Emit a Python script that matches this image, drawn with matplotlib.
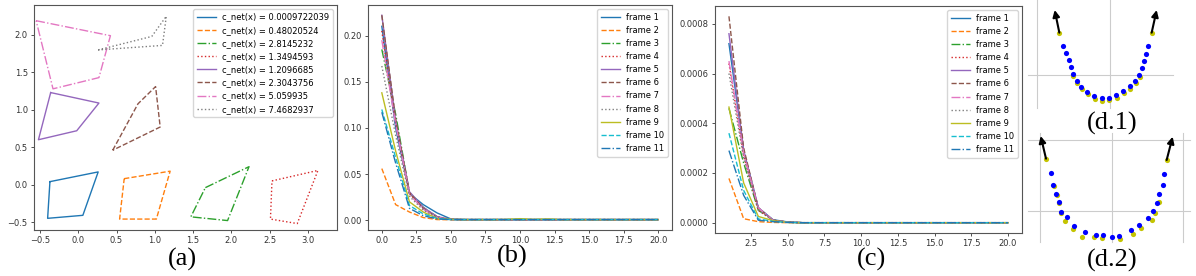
import numpy as np
import matplotlib.pyplot as plt

W, H = 1196, 276

# ---------- (a) polygons: x, y corner lists (closed loops) ----------
poly_labels = ['c_net(x) = 0.0009722039', 'c_net(x) = 0.48020524', 'c_net(x) = 2.8145232',
               'c_net(x) = 1.3494593', 'c_net(x) = 1.2096685', 'c_net(x) = 2.3043756',
               'c_net(x) = 5.059935', 'c_net(x) = 7.4682937']
poly_x = [
    [-0.37, 0.26, 0.06, -0.40, -0.37],
    [0.60, 1.20, 1.02, 0.54, 0.60],
    [1.66, 2.23, 1.95, 1.47, 1.66],
    [2.53, 3.13, 2.86, 2.51, 2.53],
    [-0.36, 0.27, -0.02, -0.52, -0.36],
    [0.45, 0.78, 1.01, 1.07, 0.45],
    [-0.55, 0.42, 0.27, -0.33, -0.55],
    [0.26, 0.96, 1.15, 1.10, 0.26],
]
poly_y = [
    [0.04, 0.17, -0.41, -0.45, 0.04],
    [0.08, 0.18, -0.46, -0.46, 0.08],
    [-0.04, 0.24, -0.48, -0.43, -0.04],
    [0.05, 0.19, -0.52, -0.46, 0.05],
    [1.23, 1.09, 0.72, 0.60, 1.23],
    [0.46, 1.08, 1.31, 0.77, 0.46],
    [2.19, 1.99, 1.43, 1.28, 2.19],
    [1.80, 1.98, 2.25, 1.86, 1.80],
]

# ---------- (b) and (c) curves ----------
frames = ['frame %d' % i for i in range(1, 12)]
x_b = list(range(0, 21))
y_b = [
    [0.210, 0.100, 0.029, 0.017, 0.008, 0.0015, 0.0008, 0.0008, 0.0008, 0.0008, 0.0008, 0.0008, 0.0008, 0.0008, 0.0008, 0.0008, 0.0008, 0.0008, 0.0008, 0.0008, 0.0008],
    [0.056, 0.017, 0.009, 0.003, 0.0008, 0.0006, 0.0006, 0.0006, 0.0006, 0.0006, 0.0006, 0.0006, 0.0006, 0.0006, 0.0006, 0.0006, 0.0006, 0.0006, 0.0006, 0.0006, 0.0006],
    [0.185, 0.115, 0.030, 0.014, 0.004, 0.0010, 0.0008, 0.0008, 0.0008, 0.0008, 0.0008, 0.0008, 0.0008, 0.0008, 0.0008, 0.0008, 0.0008, 0.0008, 0.0008, 0.0008, 0.0008],
    [0.205, 0.105, 0.029, 0.013, 0.004, 0.0010, 0.0008, 0.0008, 0.0008, 0.0008, 0.0008, 0.0008, 0.0008, 0.0008, 0.0008, 0.0008, 0.0008, 0.0008, 0.0008, 0.0008, 0.0008],
    [0.222, 0.108, 0.031, 0.014, 0.004, 0.0010, 0.0008, 0.0008, 0.0008, 0.0008, 0.0008, 0.0008, 0.0008, 0.0008, 0.0008, 0.0008, 0.0008, 0.0008, 0.0008, 0.0008, 0.0008],
    [0.222, 0.110, 0.030, 0.013, 0.003, 0.0010, 0.0008, 0.0008, 0.0008, 0.0008, 0.0008, 0.0008, 0.0008, 0.0008, 0.0008, 0.0008, 0.0008, 0.0008, 0.0008, 0.0008, 0.0008],
    [0.195, 0.104, 0.028, 0.012, 0.003, 0.0010, 0.0008, 0.0008, 0.0008, 0.0008, 0.0008, 0.0008, 0.0008, 0.0008, 0.0008, 0.0008, 0.0008, 0.0008, 0.0008, 0.0008, 0.0008],
    [0.167, 0.092, 0.026, 0.011, 0.003, 0.0010, 0.0008, 0.0008, 0.0008, 0.0008, 0.0008, 0.0008, 0.0008, 0.0008, 0.0008, 0.0008, 0.0008, 0.0008, 0.0008, 0.0008, 0.0008],
    [0.138, 0.075, 0.020, 0.009, 0.002, 0.0010, 0.0008, 0.0008, 0.0008, 0.0010, 0.0018, 0.0010, 0.0015, 0.0008, 0.0008, 0.0008, 0.0008, 0.0008, 0.0008, 0.0008, 0.0008],
    [0.120, 0.068, 0.016, 0.007, 0.002, 0.0008, 0.0008, 0.0008, 0.0008, 0.0008, 0.0008, 0.0008, 0.0008, 0.0008, 0.0008, 0.0008, 0.0008, 0.0008, 0.0008, 0.0008, 0.0008],
    [0.117, 0.062, 0.013, 0.005, 0.0015, 0.0008, 0.0008, 0.0008, 0.0008, 0.0008, 0.0008, 0.0008, 0.0008, 0.0008, 0.0008, 0.0008, 0.0008, 0.0008, 0.0008, 0.0008, 0.0008],
]
x_c = list(range(1, 21))
y_c = [
    [0.00072, 0.00029, 0.00006, 0.000012, 0.000003, 0, 0, 0, 0, 0, 0, 0, 0, 0, 0, 0, 0, 0, 0, 0],
    [0.000178, 0.000016, 0.000004, 0.000001, 0, 0, 0, 0, 0, 0, 0, 0, 0, 0, 0, 0, 0, 0, 0, 0],
    [0.00046, 0.00024, 0.00005, 0.00001, 0.000002, 0, 0, 0, 0, 0, 0, 0, 0, 0, 0, 0, 0, 0, 0, 0],
    [0.00064, 0.00027, 0.00005, 0.00001, 0.000002, 0, 0, 0, 0, 0, 0, 0, 0, 0, 0, 0, 0, 0, 0, 0],
    [0.00076, 0.00029, 0.00006, 0.00001, 0.000002, 0, 0, 0, 0, 0, 0, 0, 0, 0, 0, 0, 0, 0, 0, 0],
    [0.00083, 0.00030, 0.00006, 0.00001, 0.000002, 0, 0, 0, 0, 0, 0, 0, 0, 0, 0, 0, 0, 0, 0, 0],
    [0.00065, 0.00028, 0.00006, 0.00001, 0.000002, 0, 0, 0, 0, 0, 0, 0, 0, 0, 0, 0, 0, 0, 0, 0],
    [0.00060, 0.00026, 0.00005, 0.00001, 0.000002, 0, 0, 0, 0, 0, 0, 0, 0, 0, 0, 0, 0, 0, 0, 0],
    [0.000465, 0.00016, 0.000025, 0.000008, 0.000001, 0, 0, 0, 0, 0, 0, 0, 0, 0, 0, 0, 0, 0, 0, 0],
    [0.00036, 0.00013, 0.000015, 0.000005, 0.000001, 0, 0, 0, 0, 0, 0, 0, 0, 0, 0, 0, 0, 0, 0, 0],
    [0.00029, 0.00011, 0.00001, 0.000004, 0.000001, 0, 0, 0, 0, 0, 0, 0, 0, 0, 0, 0, 0, 0, 0, 0],
]

# ---------- (d) point sets, in panel pixel units (x3) ----------
d1_blue_x = [130, 138, 146, 153, 160, 171, 184, 201, 223, 246, 267, 289, 310, 329, 345, 358, 366, 373, 379, 385]
d1_blue_y = [138, 160, 181, 201, 222, 242, 261, 275, 289, 294, 294, 286, 272, 257, 242, 224, 205, 184, 162, 139]
d1_yel_x = [118, 395, 158, 172, 186, 204, 225, 247, 268, 290, 311, 330, 348, 360]
d1_yel_y = [98, 98, 227, 249, 267, 282, 297, 302, 301, 293, 280, 266, 249, 231]
d1_arrows = [(118, 98, 104, 30), (395, 98, 410, 30)]
d2_blue_x = [92, 100, 108, 116, 122, 142, 163, 195, 228, 250, 275, 298, 332, 357, 383, 398, 410, 418, 430, 432]
d2_blue_y = [518, 556, 582, 607, 635, 652, 678, 696, 705, 706, 712, 708, 690, 676, 655, 634, 608, 583, 555, 522]
d2_yel_x = [78, 440, 102, 110, 118, 124, 134, 158, 187, 222, 247, 300, 340, 364, 395, 404, 418]
d2_yel_y = [476, 480, 557, 585, 609, 640, 663, 687, 710, 712, 713, 718, 703, 684, 660, 640, 607]
d2_arrows = [(78, 476, 62, 408), (440, 480, 458, 410)]
d_hlines = [(225, 25, 460), (420, 25, 510), (633, 25, 510)]
d_vlines = [(52, 0, 325), (270, 0, 325), (60, 400, 725), (275, 400, 725), (490, 400, 725)]

styles = ['-', '--', '-.', ':']
colors = plt.rcParams['axes.prop_cycle'].by_key()['color']

fig = plt.figure(figsize=(W / 100, H / 100), dpi=100)


def add_ax(l, r, t, b):
    return fig.add_axes([l / W, (H - b) / H, (r - l) / W, (b - t) / H])


def style_ax(ax):
    ax.tick_params(labelsize=6, length=2.5, width=0.6, pad=2, colors='#333333')
    for s in ax.spines.values():
        s.set_linewidth(0.8)
        s.set_color('#555555')


ax_a = add_ax(34, 337, 5, 230)
for i in range(len(poly_x)):
    ax_a.plot(poly_x[i], poly_y[i], color=colors[i % 10], ls=styles[i % 4], lw=1.0,
              label=poly_labels[i])
ax_a.set_xlim(-0.578, 3.379)
ax_a.set_ylim(-0.606, 2.40)
ax_a.set_xticks([-0.5, 0.0, 0.5, 1.0, 1.5, 2.0, 2.5, 3.0])
ax_a.set_yticks([-0.5, 0.0, 0.5, 1.0, 1.5, 2.0])
ax_a.legend(loc='upper right', fontsize=6, handlelength=2.3)
style_ax(ax_a)

ax_b = add_ax(368, 672, 5, 230)
for i in range(len(frames)):
    ax_b.plot(x_b, y_b[i], color=colors[i % 10], ls=styles[i % 4], lw=1.0, label=frames[i])
ax_b.set_xticks([0, 2.5, 5, 7.5, 10, 12.5, 15, 17.5, 20])
ax_b.legend(loc='upper right', fontsize=6, handlelength=2.3)
style_ax(ax_b)

ax_c = add_ax(715, 1022, 6, 233)
for i in range(len(frames)):
    ax_c.plot(x_c, y_c[i], color=colors[i % 10], ls=styles[i % 4], lw=1.0, label=frames[i])
ax_c.set_xticks([2.5, 5, 7.5, 10, 12.5, 15, 17.5, 20])
ax_c.legend(loc='upper right', fontsize=6, handlelength=2.3)
style_ax(ax_c)

ax_d = fig.add_axes([1020 / W, 0, 176 / W, 1])
ax_d.set_xlim(0, 528)
ax_d.set_ylim(828, 0)
ax_d.axis('off')
for y, x0, x1 in d_hlines:
    ax_d.plot([x0, x1], [y, y], color='#cccccc', lw=0.8, zorder=1)
for x, y0, y1 in d_vlines:
    ax_d.plot([x, x], [y0, y1], color='#cccccc', lw=0.8, zorder=1)
ax_d.scatter(d1_yel_x, d1_yel_y, s=14, color='#c4c400', zorder=2, lw=0)
ax_d.scatter(d2_yel_x, d2_yel_y, s=14, color='#c4c400', zorder=2, lw=0)
ax_d.scatter(d1_blue_x, d1_blue_y, s=14, color='#0000ff', zorder=3, lw=0)
ax_d.scatter(d2_blue_x, d2_blue_y, s=14, color='#0000ff', zorder=3, lw=0)
for x0, y0, x1, y1 in d1_arrows + d2_arrows:
    ax_d.annotate('', xy=(x1, y1), xytext=(x0, y0),
                  arrowprops=dict(arrowstyle='-|>', color='black', lw=1.5,
                                  mutation_scale=10, shrinkA=0, shrinkB=0), zorder=4)

lab_font = dict(family='Liberation Serif', fontsize=19, ha='center', va='center')
fig.text(182 / W, 1 - 259 / H, '(a)', **lab_font)
fig.text(512 / W, 1 - 256 / H, '(b)', **lab_font)
fig.text(872 / W, 1 - 259 / H, '(c)', **lab_font)
fig.text(1112 / W, 1 - 123 / H, '(d.1)', **lab_font)
fig.text(1112 / W, 1 - 260 / H, '(d.2)', **lab_font)

fig.savefig('out.png', dpi=100)
